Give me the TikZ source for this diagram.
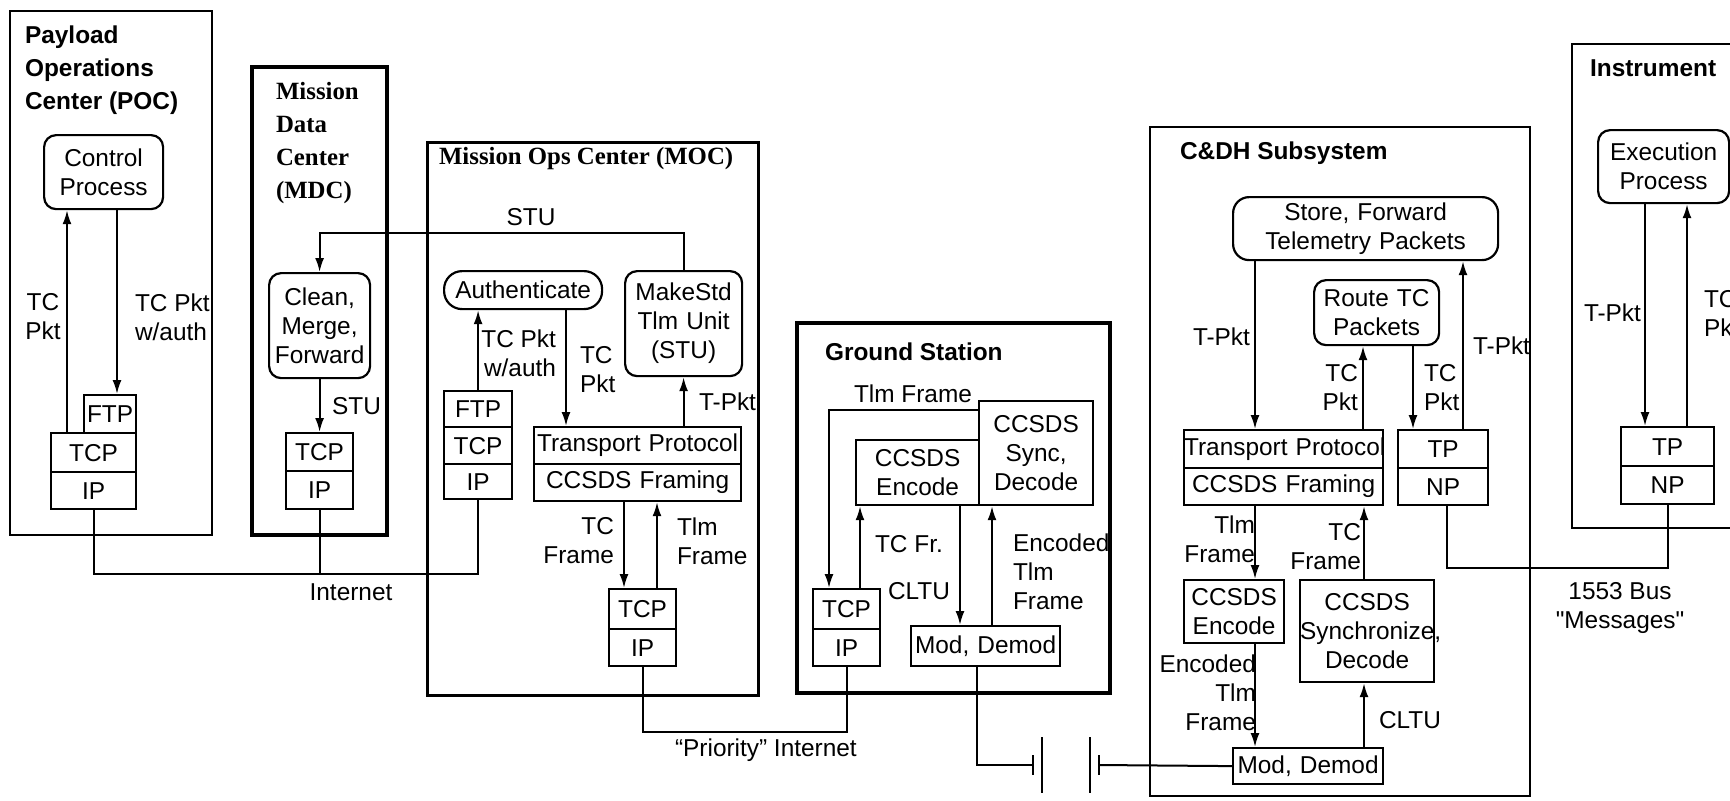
\documentclass[tikz,border=0pt]{standalone}
\usepackage{fontspec}
\setmainfont{Liberation Sans}
\newfontfamily\serifbf{Liberation Serif}
\usetikzlibrary{arrows.meta}

\newcommand{\lbl}{\fontsize{12.2}{14.5}\selectfont}
\newcommand{\ttl}{\fontsize{12.2}{16.5}\selectfont\bfseries}
\newcommand{\sttl}{\fontsize{12.4}{16.5}\selectfont\serifbf\bfseries}

\begin{document}
\begin{tikzpicture}[x=0.5pt, y=-0.5pt, font=\lbl,
    box/.style={draw, line width=1.1pt, inner xsep=0pt, inner ysep=0pt, align=center, anchor=north west},
    proc/.style={box, rounded corners=6pt},
    dims/.style 2 args={text width=#1, minimum height=#2},
    arr/.style={line width=1pt, -{Latex[length=7pt,width=4.5pt]}},
    wire/.style={line width=1pt},
    site/.style={line width=1.3pt}]
	\useasboundingbox (0,0) rectangle (1730,800);
	\fill[white] (0,0) rectangle (1730,800);

	% Payload Operations Center
	\draw[site] (10,11) rectangle (212,535);
	\node[anchor=west, align=left, font=\ttl] (poct) at (18,70) {Payload\\Operations\\Center (POC)};
	\node[proc, dims={59.5pt}{37pt}] (ctrl) at (43,134) {Control\\Process};
	\node[box, dims={26pt}{19pt}] (pocftp) at (83,394) {FTP};
	\node[box, dims={42.5pt}{19.5pt}] (poctcp) at (50,432) {TCP};
	\node[box, dims={42.5pt}{18.5pt}] (pocip) at (50,471) {IP};
	\draw[arr] (poctcp.north -| 67,0) -- (ctrl.south -| 67,0);
	\draw[arr] (ctrl.south -| 117,0) -- (pocftp.north -| 117,0);
	\node[align=center] (poctc) at (43,317) {TC\\Pkt};
	\node[anchor=west, align=left] (pocauth) at (128,317) {TC Pkt\\w/auth};

	% Mission Data Center
	\draw[site, line width=2.2pt] (252,67) rectangle (387,535);
	\node[anchor=west, align=left, font=\sttl] (mdct) at (269,143) {Mission\\Data\\Center\\(MDC)};
	\node[proc, dims={50.5pt}{52.5pt}] (clean) at (268,272) {Clean,\\Merge,\\Forward};
	\node[box, dims={33.5pt}{19pt}] (mdctcp) at (285,432) {TCP};
	\node[box, dims={33.5pt}{19pt}] (mdcip) at (285,470) {IP};
	\draw[arr] (clean.south) -- (mdctcp.north);
	\node[anchor=west] (mdcstu) at (325,406) {STU};

	% Mission Ops Center
	\draw[site, line width=1.5pt] (427,142) rectangle (758,695);
	\node[anchor=west, font=\sttl] (moct) at (432,159) {Mission Ops Center (MOC)};
	\node[proc, rounded corners=9pt, dims={79pt}{19pt}] (auth) at (443,270) {Authenticate};
	\node[proc, dims={58.5pt}{52.5pt}] (stu) at (624,270) {MakeStd\\Tlm Unit\\(STU)};
	\node[box, dims={34pt}{18pt}] (mocftp) at (443,390) {FTP};
	\node[box, dims={34pt}{18.5pt}] (moctcp) at (443,426) {TCP};
	\node[box, dims={34pt}{17.5pt}] (mocip) at (443,463) {IP};
	\node[box, dims={103.5pt}{18.5pt}] (tp) at (533,426) {\mbox{Transport Protocol}};
	\node[box, dims={103.5pt}{18.5pt}] (cf) at (533,463) {CCSDS Framing};
	\node[box, dims={33.5pt}{20pt}] (moctcpb) at (608,588) {TCP};
	\node[box, dims={33.5pt}{18.5pt}] (mocipb) at (608,628) {IP};
	\draw[arr] (mocftp.north) -- (auth.south -| mocftp.north);
	\node[anchor=east, align=right] (mocauth) at (563,353) {TC Pkt\\w/auth};
	\draw[arr] (auth.south -| 566,0) -- (tp.north -| 566,0);
	\node[anchor=west, align=left] (moctc) at (573,370) {TC\\Pkt};
	\draw[arr] (tp.north -| stu.south) -- (stu.south);
	\node[anchor=west] (moctpkt) at (692,402) {T-Pkt};
	\draw[arr] (stu.north) -- ++(0,-37) -| (clean.north);
	\node (mocstu) at (531,217) {STU};
	\draw[arr] (cf.south -| 624,0) -- (moctcpb.north -| 624,0);
	\node[anchor=east, align=right] (moctcf) at (621,541) {TC\\Frame};
	\draw[arr] (moctcpb.north -| 657,0) -- (cf.south -| 657,0);
	\node[anchor=west, align=left] (moctlmf) at (670,541) {Tlm\\Frame};

	% Internet
	\draw[wire] (pocip.south) -- ++(0,64) -| (mocip.south);
	\draw[wire] (mdcip.south) -- ++(0,64);
	\node (inet) at (351,592) {Internet};

	% Ground Station
	\draw[site, line width=2pt] (797,323) rectangle (1110,693);
	\node[anchor=west, font=\ttl] (gst) at (818,352) {Ground Station};
	\node[box, dims={61.5pt}{32.5pt}] (enc) at (855,439) {CCSDS\\Encode};
	\node[box, dims={57pt}{52pt}] (sync) at (978,400) {CCSDS\\Sync,\\Decode};
	\node[box, dims={33.5pt}{20pt}] (gstcp) at (812,588) {TCP};
	\node[box, dims={33.5pt}{18.5pt}] (gsip) at (812,628) {IP};
	\node[box, dims={74.5pt}{20pt}] (gsmod) at (910,625) {Mod, Demod};
	\draw[arr] ([yshift=-5pt]sync.north west) -| (gstcp.north -| 829,0);
	\node (gstlmf) at (913,394) {Tlm Frame};
	\draw[arr] (gstcp.north -| 860,0) -- (enc.south -| 860,0);
	\node[anchor=west] (gstcf) at (868,544) {TC Fr.};
	\draw[arr] (enc.south -| 960,0) -- (gsmod.north -| 960,0);
	\node[anchor=east] (gscltu) at (957,591) {CLTU};
	\draw[arr] (gsmod.north -| 992,0) -- (sync.south -| 992,0);
	\node[anchor=west, align=left] (gsenc) at (1006,572) {Encoded\\Tlm\\Frame};
	\draw[wire] (mocipb.south) -- ++(0,65) -| (gsip.south);
	\node[anchor=west] (pinet) at (668,750) {“Priority” Internet};

	% space link
	\coordinate (batl) at (1033,765);
	\coordinate (batr) at (1099,765);
	\draw[wire] (gsmod.south -| 977,0) |- (batl);
	\draw[wire] ([yshift=5pt]batl) -- ([yshift=-5pt]batl);
	\draw[wire] ([xshift=4.5pt,yshift=14pt]batl) -- ([xshift=4.5pt,yshift=-14pt]batl);
	\draw[wire] ([xshift=-4.5pt,yshift=14pt]batr) -- ([xshift=-4.5pt,yshift=-14pt]batr);
	\draw[wire] ([yshift=5pt]batr) -- ([yshift=-5pt]batr);

	% C&DH Subsystem
	\draw[site, line width=1.4pt] (1150,127) rectangle (1530,796);
	\node[anchor=west, font=\ttl] (cdht) at (1173,153) {C\&DH Subsystem};
	\node[proc, rounded corners=8pt, dims={132.5pt}{31.5pt}] (store) at (1232,196) {Store, Forward\\Telemetry Packets};
	\node[proc, dims={62.5pt}{32.5pt}] (route) at (1313,279) {Route TC\\Packets};
	\node[box, dims={99.5pt}{19pt}] (cdtp) at (1183,429) {\mbox{Transport Protocol}};
	\node[box, dims={99.5pt}{18.5pt}] (cdcf) at (1183,467) {CCSDS Framing};
	\node[box, dims={45pt}{19pt}] (cdtpb) at (1397,429) {TP};
	\node[box, dims={45pt}{18.5pt}] (cdnp) at (1397,467) {NP};
	\node[box, dims={50pt}{31.5pt}] (cdenc) at (1183,579) {CCSDS\\Encode};
	\node[box, dims={67pt}{51pt}] (cdsync) at (1299,579) {CCSDS\\Synchronize,\\Decode};
	\node[box, dims={75pt}{18pt}] (cdmod) at (1232,747) {Mod, Demod};
	\draw[wire] (batr) -- (cdmod.west);
	\draw[arr] (store.south -| 1255,0) -- (cdtp.north -| 1255,0);
	\node[anchor=east] (cdtpkt) at (1257,337) {T-Pkt};
	\draw[arr] (cdtp.north -| 1363,0) -- (route.south -| 1363,0);
	\node[anchor=east, align=right] (cdtcup) at (1365,388) {TC\\Pkt};
	\draw[arr] (route.south -| 1413,0) -- (cdtpb.north -| 1413,0);
	\node[anchor=west, align=left] (cdtcdn) at (1417,388) {TC\\Pkt};
	\draw[arr] (cdtpb.north -| 1463,0) -- (store.south -| 1463,0);
	\node[anchor=west] (cdtpktb) at (1466,346) {T-Pkt};
	\draw[arr] (cdcf.south -| 1255,0) -- (cdenc.north -| 1255,0);
	\node[anchor=east, align=right] (cdtlmf) at (1262,539) {Tlm\\Frame};
	\draw[arr] (cdsync.north -| 1364,0) -- (cdcf.south -| 1364,0);
	\node[anchor=east, align=right] (cdtcf) at (1368,547) {TC\\Frame};
	\draw[arr] (cdenc.south -| 1255,0) -- (cdmod.north -| 1255,0);
	\node[anchor=east, align=right] (cdetf) at (1263,693) {Encoded\\Tlm\\Frame};
	\draw[arr] (cdmod.north -| 1364,0) -- (cdsync.south -| 1364,0);
	\node[anchor=west] (cdcltu) at (1372,720) {CLTU};

	% Instrument
	\draw[site, line width=1.4pt] (1572,44) rectangle (1760,528);
	\node[anchor=west, font=\ttl] (instt) at (1583,68) {Instrument};
	\node[proc, dims={65.5pt}{36.5pt}] (exec) at (1597,129) {Execution\\Process};
	\node[box, dims={46.5pt}{19.5pt}] (insttp) at (1620,426) {TP};
	\node[box, dims={46.5pt}{19pt}] (instnp) at (1620,465) {NP};
	\draw[arr] (exec.south -| 1645,0) -- (insttp.north -| 1645,0);
	\node[anchor=east] (insttpkt) at (1648,313) {T-Pkt};
	\draw[arr] (insttp.north -| 1687,0) -- (exec.south -| 1687,0);
	\node[anchor=west, align=left] (insttc) at (1697,314) {TC\\Pkt};

	% 1553 bus
	\draw[wire] (cdnp.south -| 1447,0) -- ++(0,62) -| (instnp.south);
	\node[align=center] (bus) at (1620,608) {1553 Bus\\\textquotedbl Messages\textquotedbl};
\end{tikzpicture}
\end{document}
